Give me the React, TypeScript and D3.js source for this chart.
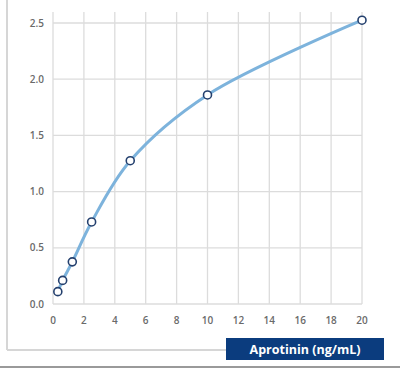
import React from "react";
import * as d3 from "d3";

const concentrations = [0.3125, 0.625, 1.25, 2.5, 5, 10, 20];
const absorbance = [0.11, 0.21, 0.375, 0.73, 1.275, 1.86, 2.525];
const xTicks = [0, 2, 4, 6, 8, 10, 12, 14, 16, 18, 20];
const yTicks = [0, 0.5, 1.0, 1.5, 2.0, 2.5];
const axisTitle = "Aprotinin (ng/mL)";

export default function App() {
  const W = 400, H = 370;
  const x = d3.scaleLinear().domain([0, 20]).range([53, 362]);
  const y = d3.scaleLinear().domain([0, 2.5]).range([304, 23]);
  const pts = concentrations.map((c, i) => [c, absorbance[i]] as [number, number]);
  const line = d3.line<[number, number]>()
    .x(d => x(d[0])).y(d => y(d[1]))
    .curve(d3.curveCatmullRom.alpha(0.5));
  const font = "'Open Sans', 'DejaVu Sans', sans-serif";
  return (
    <svg width={W} height={H} style={{ position: "absolute", left: 0, top: 0, display: "block" }}>
      <rect width={W} height={H} fill="#fff" />
      <line x1={7} y1={0} x2={7} y2={350} stroke="#d6d6d6" strokeWidth={2} />
      <line x1={7} y1={350} x2={384} y2={350} stroke="#d6d6d6" strokeWidth={2} />
      <line x1={0} y1={367} x2={400} y2={367} stroke="#9a9a9a" strokeWidth={2} />
      {xTicks.map(t => (
        <line key={"gx" + t} x1={x(t)} x2={x(t)} y1={12} y2={304} stroke="#dcdcdc" strokeWidth={1.3} />
      ))}
      {yTicks.map(t => (
        <line key={"gy" + t} x1={x(0)} x2={x(20)} y1={y(t)} y2={y(t)} stroke="#dcdcdc" strokeWidth={1.3} />
      ))}
      {yTicks.map(t => (
        <text key={"ty" + t} x={44} y={y(t) + 3.5} textAnchor="end" fontSize={10} fontWeight={600} fill="#6a6a6a" fontFamily={font}>
          {t.toFixed(1)}
        </text>
      ))}
      {xTicks.map(t => (
        <text key={"tx" + t} x={x(t)} y={324} textAnchor="middle" fontSize={10} fontWeight={600} fill="#6a6a6a" fontFamily={font}>
          {t}
        </text>
      ))}
      <path d={line(pts) || ""} fill="none" stroke="#7db3dc" strokeWidth={3} strokeLinecap="round" />
      {pts.map((p, i) => (
        <circle key={"p" + i} cx={x(p[0])} cy={y(p[1])} r={4} fill="#fff" stroke="#24406e" strokeWidth={1.6} />
      ))}
      <rect x={226} y={338} width={158} height={22} fill="#0b3c7e" />
      <text x={305} y={354} textAnchor="middle" fontSize={12.5} fontWeight="bold" fill="#fff" fontFamily={font}>
        {axisTitle}
      </text>
    </svg>
  );
}
